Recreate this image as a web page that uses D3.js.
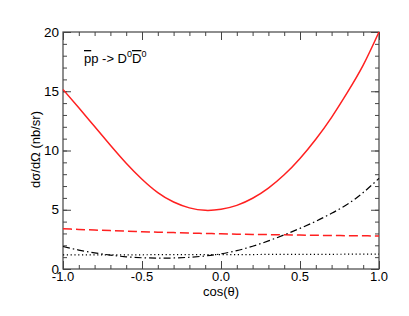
<!DOCTYPE html>
<html>
<head>
<meta charset="utf-8">
<script src="https://cdn.jsdelivr.net/npm/d3@7"></script>
<style>
  body { margin: 0; background: #fff; }
  text { font-family: "Liberation Sans", Arial, sans-serif; }
</style>
</head>
<body>
<svg id="chart"></svg>
<script>
// data
var cosTheta = [-1.0, -0.9, -0.8, -0.7, -0.6, -0.5, -0.4, -0.3, -0.2, -0.1, 0.0,
                0.1, 0.2, 0.3, 0.4, 0.5, 0.6, 0.7, 0.8, 0.9, 1.0];
var total    = [15.15, 13.6, 12.02, 10.45, 8.93, 7.58, 6.45, 5.65, 5.16, 4.95, 5.04,
                5.37, 5.97, 6.83, 7.95, 9.33, 10.95, 12.8, 14.9, 17.2, 20.0];
var dashed   = [3.39, 3.34, 3.29, 3.24, 3.19, 3.15, 3.11, 3.07, 3.03, 3.0, 2.97,
                2.94, 2.92, 2.9, 2.88, 2.86, 2.84, 2.83, 2.81, 2.8, 2.78];
var dotted   = [1.2, 1.2, 1.2, 1.2, 1.2, 1.2, 1.21, 1.21, 1.21, 1.22, 1.22,
                1.22, 1.22, 1.23, 1.23, 1.23, 1.24, 1.24, 1.25, 1.25, 1.26];
var dashDot  = [1.9, 1.6, 1.36, 1.17, 1.03, 0.95, 0.92, 0.93, 0.99, 1.1, 1.28,
                1.55, 1.92, 2.37, 2.88, 3.43, 4.03, 4.7, 5.47, 6.45, 7.65];
var xTicks = [-1.0, -0.5, 0.0, 0.5, 1.0];
var yTicks = [0, 5, 10, 15, 20];

var width = 409, height = 316;
var margins = {top: 32, right: 30, bottom: 47, left: 63};

var svg = d3.select('#chart').attr('width', width).attr('height', height);

var xScale = d3.scaleLinear().domain([-1, 1]).range([margins.left, width - margins.right]);
var yScale = d3.scaleLinear().domain([0, 20]).range([height - margins.bottom, margins.top]);

var axisColor = '#444';

// inward ticks on all four sides
function ticks(axis, vals, size) {
  return axis.tickValues(vals).tickSize(size).tickFormat('');
}
var xMinor = d3.range(-10, 11).map(function(d) { return d / 10; });
var yMinor = d3.range(0, 21);

var gBottom = svg.append('g').attr('transform', 'translate(0,' + (height - margins.bottom) + ')');
gBottom.append('g').call(ticks(d3.axisTop(xScale), xMinor, 4));
gBottom.append('g').call(ticks(d3.axisTop(xScale), xTicks, 8));
var gTop = svg.append('g').attr('transform', 'translate(0,' + margins.top + ')');
gTop.append('g').call(ticks(d3.axisBottom(xScale), xMinor, 4));
gTop.append('g').call(ticks(d3.axisBottom(xScale), xTicks, 8));
var gLeft = svg.append('g').attr('transform', 'translate(' + margins.left + ',0)');
gLeft.append('g').call(ticks(d3.axisRight(yScale), yMinor, 4));
gLeft.append('g').call(ticks(d3.axisRight(yScale), yTicks, 8));
var gRight = svg.append('g').attr('transform', 'translate(' + (width - margins.right) + ',0)');
gRight.append('g').call(ticks(d3.axisLeft(yScale), yMinor, 4));
gRight.append('g').call(ticks(d3.axisLeft(yScale), yTicks, 8));
svg.selectAll('.domain').remove();
svg.selectAll('.tick line').attr('stroke', axisColor);

// frame
svg.append('rect')
  .attr('x', margins.left).attr('y', margins.top)
  .attr('width', width - margins.left - margins.right)
  .attr('height', height - margins.top - margins.bottom)
  .attr('fill', 'none').attr('stroke', axisColor).attr('stroke-width', 1.2);

// tick labels
svg.selectAll('.xlab').data(xTicks).enter().append('text')
  .attr('x', function(d) { return xScale(d); })
  .attr('y', height - margins.bottom + 12)
  .attr('text-anchor', 'middle').attr('font-size', '13px')
  .text(function(d) { return d3.format('.1f')(d).replace('−', '-'); });
svg.selectAll('.ylab').data(yTicks).enter().append('text')
  .attr('x', margins.left - 4)
  .attr('y', function(d) { return yScale(d) + 4.5; })
  .attr('text-anchor', 'end').attr('font-size', '13.5px')
  .text(function(d) { return d; });

// axis titles
svg.append('text')
  .attr('x', xScale(0)).attr('y', 296)
  .attr('text-anchor', 'middle').attr('font-size', '13px')
  .text('cos(θ)');
svg.append('text')
  .attr('transform', 'translate(40,' + ((margins.top + height - margins.bottom) / 2 - 1) + ') rotate(-90)')
  .attr('text-anchor', 'middle').attr('font-size', '13px')
  .text('dσ/dΩ (nb/sr)');

// reaction label
var lab = svg.append('text').attr('x', 84).attr('y', 63).attr('font-size', '13px');
lab.append('tspan').text('p').attr('text-decoration', 'overline');
lab.append('tspan').text('p -> D');
lab.append('tspan').text('0').attr('font-size', '9px').attr('dy', -6);
lab.append('tspan').text('D').attr('text-decoration', 'overline').attr('dy', 6);
lab.append('tspan').text('0').attr('font-size', '9px').attr('dy', -6);

// curves
var line = d3.line()
  .x(function(d, i) { return xScale(cosTheta[i]); })
  .y(function(d) { return yScale(d); })
  .curve(d3.curveNatural);

var series = [
  {values: total,   color: '#ff2020', dash: null},
  {values: dashed,  color: '#ff2020', dash: '9,4'},
  {values: dotted,  color: '#000',    dash: '1.2,2.6'},
  {values: dashDot, color: '#000',    dash: '7,3,1.5,3'}
];
series.forEach(function(s) {
  svg.append('path')
    .datum(s.values)
    .attr('d', line)
    .attr('fill', 'none')
    .attr('stroke', s.color)
    .attr('stroke-width', s.color === '#000' ? 1.2 : 1.5)
    .attr('stroke-dasharray', s.dash);
});
</script>
</body>
</html>
